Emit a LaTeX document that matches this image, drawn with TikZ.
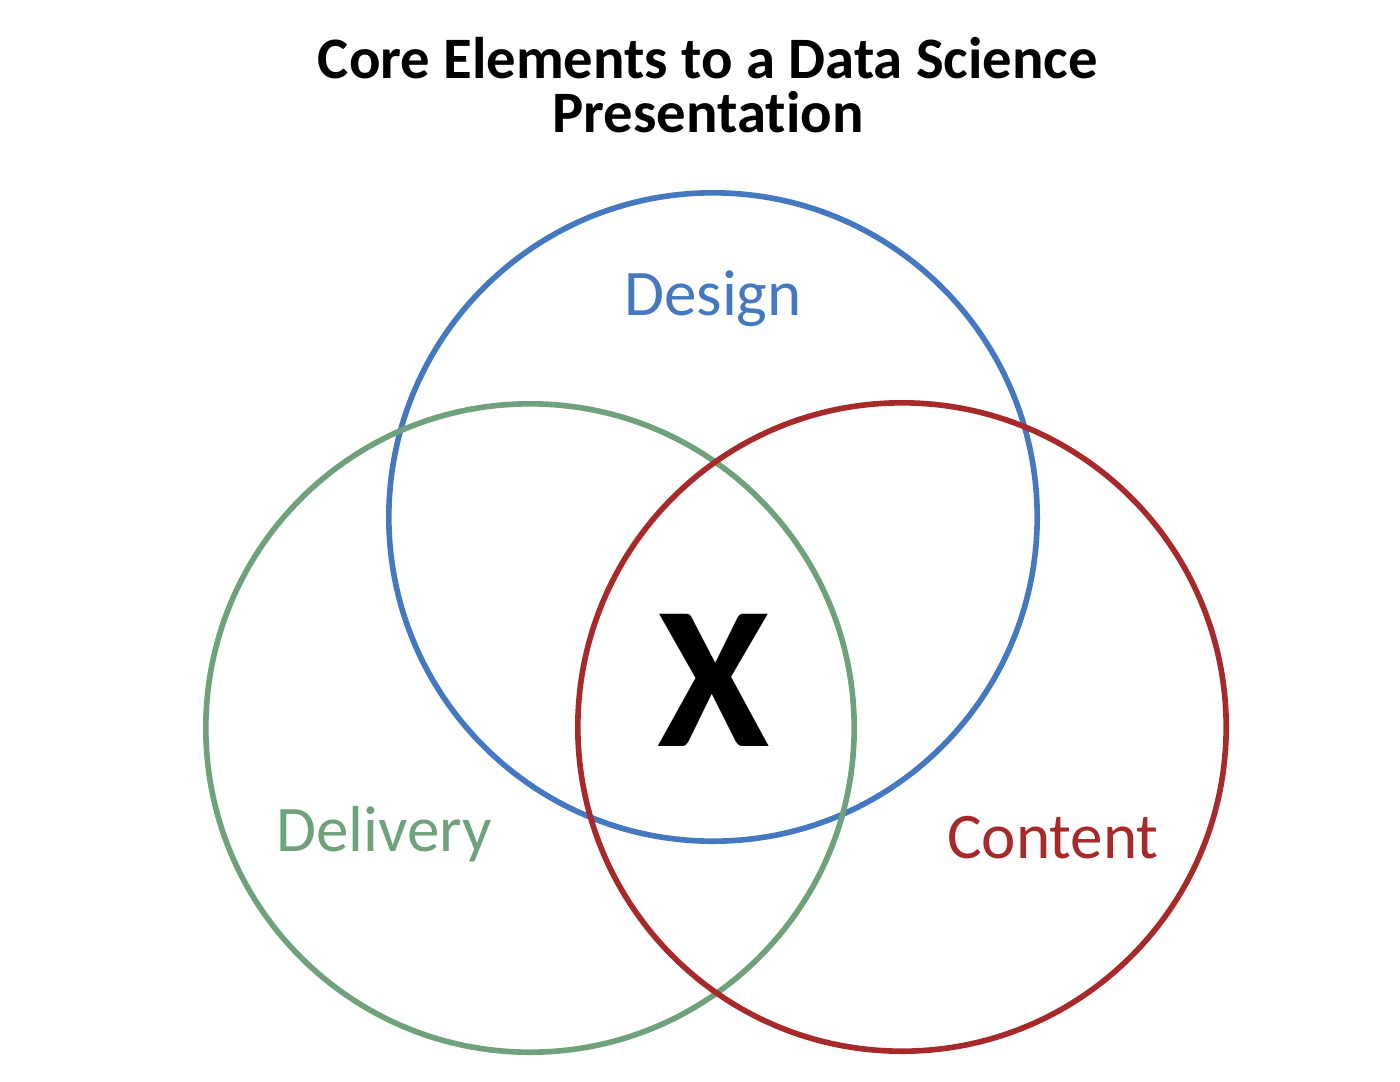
\documentclass[tikz,border=0pt]{standalone}
\usepackage{fontspec}
\setmainfont{Carlito}[Ligatures=NoCommon]
\usetikzlibrary{positioning}
\definecolor{designblue}{HTML}{4479C2}
\definecolor{deliverygreen}{HTML}{6FA27C}
\definecolor{contentred}{HTML}{A8292A}

\begin{document}
\begin{tikzpicture}[x=0.01cm, y=-0.01cm,
	ring/.style={circle, draw, line width=1.6pt, minimum size=6.48cm, inner sep=0pt},
	lbl/.style={font=\fontsize{18.5}{20}\selectfont}]
		\useasboundingbox (0,0) rectangle (1400,1081);
		%title
			\node [font=\bfseries\fontsize{16.7}{15.4}\selectfont, align=center, inner sep=0pt] (title) at (708,85) {Core Elements to a Data Science\\Presentation};
		%circles
			\node [ring, draw=designblue] (design) at (713,517) {};
			\node [ring, draw=deliverygreen] (delivery) at (530,728) {};
			\node [ring, draw=contentred] (content) at (902,727) {};
		%labels
			\node [lbl, text=designblue] (designlbl) at (713,299) {Design};
			\node [lbl, text=deliverygreen] (deliverylbl) at (384,834) {Delivery};
			\node [lbl, text=contentred] (contentlbl) at (1053,838) {Content};
		%centre
			\node [font=\bfseries\fontsize{58}{60}\selectfont] (x) at (714,680) {X};
\end{tikzpicture}
\end{document}
